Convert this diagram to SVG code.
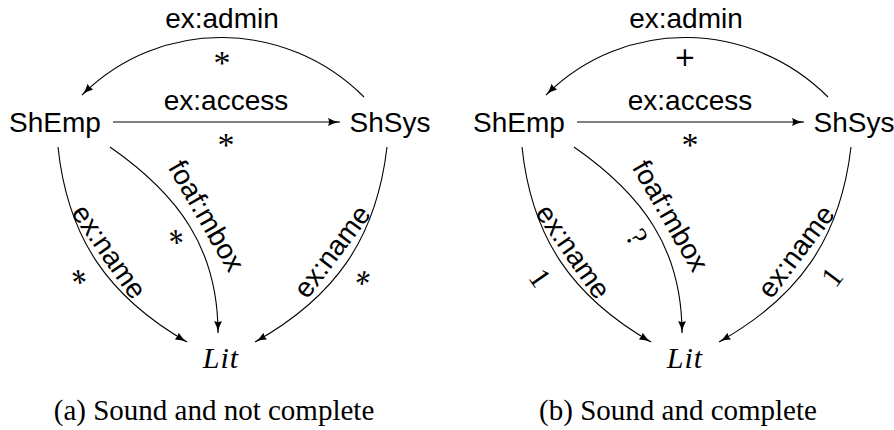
<svg xmlns="http://www.w3.org/2000/svg" width="894" height="430" viewBox="0 0 894 430">
<defs>
<style>
.node{font-family:"Liberation Sans",Arial,sans-serif;font-size:28px;fill:#000;text-anchor:middle}
.lbl{font-family:"Liberation Sans",Arial,sans-serif;font-size:28px;fill:#000;text-anchor:middle}
.mult{font-family:"Liberation Serif","Times New Roman",serif;font-size:30px;fill:#000;text-anchor:middle}
.plus{font-family:"DejaVu Sans",sans-serif;font-size:26px;fill:#000;text-anchor:middle}
.star{font-family:"Liberation Serif","Times New Roman",serif;font-size:34px;fill:#000;text-anchor:middle}
.lit{font-family:"Liberation Serif","Times New Roman",serif;font-style:italic;font-size:30px;fill:#000;text-anchor:middle;letter-spacing:1px}
.cap{font-family:"Liberation Serif","Times New Roman",serif;font-size:29px;fill:#000;text-anchor:middle}
.edge{fill:none;stroke:#000;stroke-width:1.1}
</style>
<marker id="arr" viewBox="0 0 12 8" refX="12" refY="4" markerWidth="12" markerHeight="8" markerUnits="userSpaceOnUse" orient="auto">
<path d="M0,0 Q5,3 12,4 Q5,5 0,8 Q2,4 0,0 z" fill="#000"/>
</marker>
</defs>
<rect width="894" height="430" fill="#fff"/>

<g id="panel-a">
<g id="connectors-a">
<path class="edge" marker-end="url(#arr)" d="M364,97 C286,19 160,17 82,95"/>
<path class="edge" marker-end="url(#arr)" d="M113,122 L340,122"/>
<path class="edge" marker-end="url(#arr)" d="M58,147 C67.5,237.5 108,296.5 187,342"/>
<path class="edge" marker-end="url(#arr)" d="M110,147 C179,195 218,249 218,333"/>
<path class="edge" marker-end="url(#arr)" d="M387,147 C376.5,237.5 336,296.5 255,342"/>
<text class="lbl" x="222" y="28">ex:admin</text>
<text class="star" x="222" y="74">*</text>
<text class="lbl" x="226" y="110">ex:access</text>
<text class="star" x="226" y="156">*</text>
<g transform="translate(107,253) rotate(55)"><text class="lbl" y="7">ex:name</text></g>
<g transform="translate(79,277) rotate(55)"><text class="star" y="16">*</text></g>
<g transform="translate(206,216) rotate(60)"><text class="lbl" y="9">foaf:mbox</text></g>
<g transform="translate(176,237) rotate(60)"><text class="star" y="16">*</text></g>
<g transform="translate(334,253) rotate(-53)"><text class="lbl" y="7">ex:name</text></g>
<g transform="translate(363,278) rotate(-53)"><text class="star" y="16">*</text></g>
</g>
<g id="a-ShEmp"><text class="node" x="55" y="132">ShEmp</text></g>
<g id="a-ShSys"><text class="node" x="390" y="132">ShSys</text></g>
<g id="a-Lit"><text class="lit" x="221" y="368">Lit</text></g>
<text class="cap" x="214" y="420">(a) Sound and not complete</text>
</g>

<g id="panel-b" transform="translate(464,0)">
<g id="connectors-b">
<path class="edge" marker-end="url(#arr)" d="M364,97 C286,19 160,17 82,95"/>
<path class="edge" marker-end="url(#arr)" d="M113,122 L340,122"/>
<path class="edge" marker-end="url(#arr)" d="M58,147 C67.5,237.5 108,296.5 187,342"/>
<path class="edge" marker-end="url(#arr)" d="M110,147 C179,195 218,249 218,333"/>
<path class="edge" marker-end="url(#arr)" d="M387,147 C376.5,237.5 336,296.5 255,342"/>
<text class="lbl" x="222" y="28">ex:admin</text>
<text class="plus" x="221" y="66">+</text>
<text class="lbl" x="226" y="110">ex:access</text>
<text class="star" x="226" y="156">*</text>
<g transform="translate(107,253) rotate(55)"><text class="lbl" y="7">ex:name</text></g>
<g transform="translate(76,278) rotate(55)"><text class="mult" y="10">1</text></g>
<g transform="translate(206,216) rotate(60)"><text class="lbl" y="9">foaf:mbox</text></g>
<g transform="translate(173,237) rotate(60)"><text class="mult" y="10">?</text></g>
<g transform="translate(334,253) rotate(-53)"><text class="lbl" y="7">ex:name</text></g>
<g transform="translate(368,277) rotate(-53)"><text class="mult" y="10">1</text></g>
</g>
<g id="b-ShEmp"><text class="node" x="55" y="132">ShEmp</text></g>
<g id="b-ShSys"><text class="node" x="390" y="132">ShSys</text></g>
<g id="b-Lit"><text class="lit" x="221" y="368">Lit</text></g>
<text class="cap" x="214" y="420">(b) Sound and complete</text>
</g>
</svg>
